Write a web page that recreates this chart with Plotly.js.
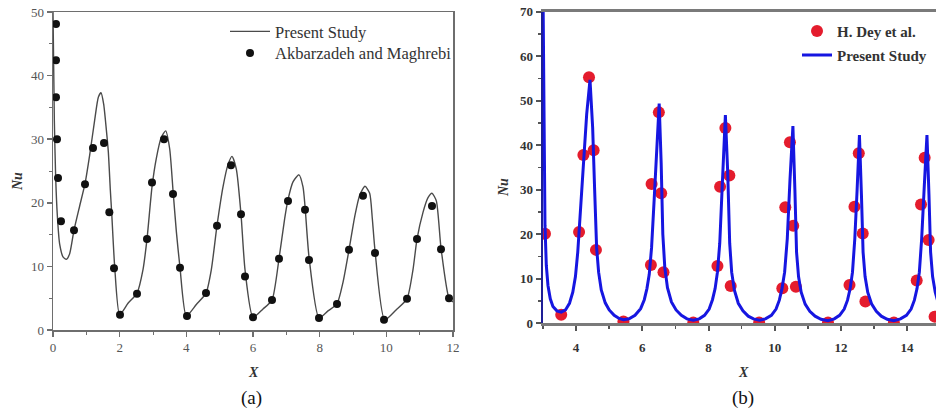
<!DOCTYPE html>
<html>
<head>
<meta charset="utf-8">
<script src="https://cdn.plot.ly/plotly-3.0.1.min.js"></script>
<style>
html,body{margin:0;padding:0;background:#fff;}
#chart{width:936px;height:415px;}
</style>
</head>
<body>
<div id="chart"></div>
<script>
// ---------- Panel (a) ----------
var aLineX = [0, 0.04, 0.08, 0.13, 0.2, 0.3, 0.4, 0.5, 0.63, 0.8, 0.96, 1.1, 1.25, 1.36, 1.44, 1.52, 1.6, 1.66, 1.72, 1.76, 1.85, 2.0,
  2.25, 2.52, 2.7, 2.82, 2.97, 3.1, 3.25, 3.38, 3.5, 3.6, 3.7, 3.81, 4.0,
  4.3, 4.59, 4.75, 4.92, 5.1, 5.25, 5.37, 5.5, 5.64, 5.76, 6.0,
  6.3, 6.57, 6.78, 6.95, 7.05, 7.2, 7.38, 7.5, 7.56, 7.68, 7.98,
  8.25, 8.52, 8.7, 8.88, 9.05, 9.2, 9.36, 9.5, 9.58, 9.66, 9.95,
  10.3, 10.62, 10.8, 10.92, 11.1, 11.25, 11.37, 11.5, 11.64, 11.88, 12.0];
var aLineY = [50, 33, 24, 18, 13.5, 11.5, 11.1, 12, 15.7, 19.5, 23, 27.5, 33, 36.6, 37.3, 35.5, 31.5, 28, 22, 18.5, 10, 2.4,
  4.2, 5.8, 9.5, 14.3, 22.5, 27, 30.3, 31.3, 28.5, 22, 15.5, 9.8, 2.2,
  4, 5.8, 9.5, 16.4, 22.5, 26, 27.3, 25.3, 18.2, 9.5, 2.0,
  3.3, 4.7, 11.2, 17.5, 20.5, 23.3, 24.4, 22.5, 19.5, 11.5, 1.9,
  3, 4.1, 7.5, 12.6, 17.8, 21.2, 22.6, 21.5, 17.5, 12.5, 1.6,
  3.2, 4.9, 9.5, 14.3, 18.5, 20.8, 21.5, 20.3, 12.9, 5.0, 4.4];
var aDotsX = [0.09, 0.09, 0.09, 0.12, 0.15, 0.24, 0.63, 0.96, 1.2, 1.53, 1.69, 1.83, 2.01, 2.52, 2.82, 2.97, 3.33, 3.6, 3.81, 4.02,
  4.59, 4.92, 5.34, 5.64, 5.76, 6.0, 6.57, 6.78, 7.05, 7.56, 7.68, 7.98, 8.52, 8.88, 9.3, 9.66, 9.93, 10.62, 10.92, 11.37, 11.64, 11.88];
var aDotsY = [48.1, 42.4, 36.6, 30.0, 23.9, 17.1, 15.7, 22.9, 28.6, 29.4, 18.5, 9.7, 2.4, 5.7, 14.3, 23.2, 30.0, 21.4, 9.8, 2.2,
  5.8, 16.4, 25.9, 18.2, 8.4, 2.0, 4.7, 11.2, 20.3, 18.9, 11.0, 1.9, 4.1, 12.6, 21.1, 12.1, 1.6, 4.9, 14.3, 19.5, 12.7, 5.0];

// ---------- Panel (b) ----------
var bLineX = [3.0, 3.03, 3.06, 3.1, 3.15, 3.22, 3.3, 3.42, 3.55, 3.68, 3.8, 3.9, 3.98, 4.05, 4.12, 4.22, 4.32, 4.42, 4.5, 4.56, 4.62, 4.68, 4.76, 4.88, 5.0, 5.15, 5.3, 5.43,
  5.6, 5.78, 5.95, 6.06, 6.14, 6.21, 6.28, 6.36, 6.44, 6.51, 6.57, 6.62, 6.68, 6.76, 6.88, 7.02, 7.18, 7.35, 7.54,
  7.72, 7.88, 8.02, 8.12, 8.2, 8.27, 8.34, 8.41, 8.51, 8.58, 8.64, 8.7, 8.78, 8.9, 9.04, 9.2, 9.36, 9.54,
  9.72, 9.9, 10.04, 10.14, 10.22, 10.3, 10.38, 10.46, 10.55, 10.61, 10.66, 10.72, 10.8, 10.92, 11.06, 11.22, 11.4, 11.61,
  11.8, 11.96, 12.1, 12.2, 12.28, 12.35, 12.42, 12.49, 12.56, 12.62, 12.67, 12.73, 12.81, 12.93, 13.07, 13.22, 13.4, 13.6,
  13.8, 13.98, 14.12, 14.22, 14.3, 14.37, 14.44, 14.52, 14.6, 14.66, 14.71, 14.77, 14.85, 14.95];
var bLineY = [75, 40, 22, 13, 8.5, 5.5, 3.8, 2.8, 2.5, 3.0, 4.5, 7, 10.5, 16, 24, 36, 47, 54.7, 44, 30, 17, 11.5, 7.5, 4.6, 3, 1.8, 1.1, 0.8,
  1.0, 1.8, 3.3, 5.3, 7.8, 11, 17, 28, 40, 49.4, 36, 20, 12.5, 8, 4.8, 3, 1.8, 1.0, 0.7,
  1.0, 1.8, 3.2, 5.3, 7.8, 11.5, 18, 30, 46.8, 34, 18, 11.5, 7.5, 4.5, 2.8, 1.6, 1.0, 0.7,
  1.0, 1.8, 3.2, 5.2, 7.8, 11.5, 19, 32, 44.3, 30, 16, 10.5, 7, 4.3, 2.7, 1.6, 0.9, 0.6,
  1.0, 1.8, 3.2, 5.2, 7.8, 11.5, 19, 30, 42.3, 29, 16, 10.5, 7, 4.3, 2.7, 1.6, 0.9, 0.6,
  1.0, 1.8, 3.2, 5.2, 7.8, 11.5, 19, 31, 42.3, 29, 16, 10.5, 7, 4.3];
var bDotsX = [3.06, 3.55, 4.09, 4.22, 4.39, 4.53, 4.6, 5.43, 6.26, 6.28, 6.5, 6.57, 6.64, 7.54, 8.27, 8.35, 8.51, 8.63, 8.67, 9.53,
  10.23, 10.32, 10.46, 10.56, 10.64, 11.61, 12.26, 12.41, 12.54, 12.66, 12.74, 13.6, 14.29, 14.42, 14.53, 14.65, 14.83];
var bDotsY = [20.1, 1.9, 20.5, 37.8, 55.3, 38.9, 16.5, 0.4, 13.1, 31.3, 47.4, 29.2, 11.5, 0.2, 12.9, 30.7, 43.9, 33.2, 8.4, 0.2,
  7.9, 26.1, 40.7, 21.9, 8.2, 0.2, 8.6, 26.2, 38.2, 20.2, 4.9, 0.2, 9.6, 26.7, 37.2, 18.7, 1.5];

var W = 936, H = 415;
function px(x){return x/W;}
function py(y){return 1 - y/H;}

var serif = 'Liberation Serif, Times New Roman, serif';

var traces = [
  {x: aLineX, y: aLineY, xaxis:'x', yaxis:'y', mode:'lines', name:'Present Study', showlegend:true,
   line:{color:'#4a4a4a', width:1.4, shape:'spline', smoothing:0.6}, legend:'legend'},
  {x: aDotsX, y: aDotsY, xaxis:'x', yaxis:'y', mode:'markers', name:'Akbarzadeh and Maghrebi', showlegend:true,
   marker:{color:'#111', size:8}, legend:'legend2'},
  {x: bDotsX, y: bDotsY, xaxis:'x2', yaxis:'y2', mode:'markers', name:'<b>H. Dey et al.</b>', showlegend:true,
   marker:{color:'rgb(228,28,45)', size:12}, legend:'legend3'},
  {x: bLineX, y: bLineY, xaxis:'x2', yaxis:'y2', mode:'lines', name:'<b>Present Study</b>', showlegend:true,
   line:{color:'rgb(22,22,225)', width:3}, legend:'legend4'}
];

var axA = {showgrid:false, zeroline:false, showline:true, linecolor:'#6e6e6e', linewidth:1.5,
  ticks:'outside', ticklen:5, tickwidth:1.5, tickcolor:'#6e6e6e', mirror:true,
  tickfont:{family:serif, size:13, color:'#555'}};
var axB = {showgrid:false, zeroline:false, showline:true, linecolor:'#7a7a7a', linewidth:2.5,
  ticks:'outside', ticklen:5, tickwidth:2, tickcolor:'#555',
  tickfont:{family:serif, size:13, color:'#333', weight:'bold'}};

function legendAt(x, yTop, size, bold, iw){
  return {x:px(x), y:py(yTop), xanchor:'left', yanchor:'top', bgcolor:'rgba(0,0,0,0)', visible:true,
    borderwidth:0, font:{family:serif, size:size, color:'#333', weight: bold?'bold':'normal'}, itemwidth:iw||30};
}
function note(text, x, y, size, angle, color){
  return {text:text, x:px(x), y:py(y), xref:'paper', yref:'paper', showarrow:false,
    xanchor:'center', yanchor:'middle', textangle:angle||0, font:{family:serif, size:size, color:color}};
}

var layout = {
  width: W, height: H,
  showlegend: true,
  margin:{l:0, r:0, t:0, b:0},
  paper_bgcolor:'#fff', plot_bgcolor:'#fff',
  font:{family:serif},
  xaxis: Object.assign({}, axA, {domain:[px(53), px(453)], range:[0,12], dtick:2, tick0:0, anchor:'y',
    minor:{dtick:1, ticks:'outside', ticklen:3, tickwidth:1, tickcolor:'#6e6e6e'}}),
  yaxis: Object.assign({}, axA, {domain:[py(330), py(12)], range:[0,50], dtick:10, tick0:0, anchor:'x',
    minor:{dtick:5, ticks:'outside', ticklen:3, tickwidth:1, tickcolor:'#6e6e6e'}}),
  xaxis2: Object.assign({}, axB, {domain:[px(543), 1], range:[3, 14.873], dtick:2, tick0:0, anchor:'y2', mirror:true,
    ticklabelstandoff:6,
    minor:{dtick:1, ticks:'outside', ticklen:3, tickwidth:1.5, tickcolor:'#555'}}),
  yaxis2: Object.assign({}, axB, {domain:[py(323.3), py(11.8)], range:[0,70], dtick:10, tick0:0, anchor:'x2',
    linecolor:'rgb(30,30,150)',
    minor:{dtick:5, ticks:'outside', ticklen:3, tickwidth:1.5, tickcolor:'#555'}}),
  legend: legendAt(225, 14.1, 16.5, false, 40),
  legend2: legendAt(225, 35.7, 16.5, false, 40),
  legend3: legendAt(797, 14.75, 15, true),
  legend4: legendAt(797, 38.75, 15, true),
  annotations:[
    note('(a)', 251, 398, 19, 0, '#111'),
    note('(b)', 743, 398, 19, 0, '#111'),
    note('<b><i>X</i></b>', 254, 372, 14, 0, '#333'),
    note('<b><i>X</i></b>', 743, 372, 14, 0, '#333'),
    note('<b><i>Nu</i></b>', 17, 182, 14, -90, '#333'),
    note('<b><i>Nu</i></b>', 503, 188, 14, -90, '#333')
  ]
};

Plotly.newPlot('chart', traces, layout, {staticPlot:true, displayModeBar:false});
</script>
</body>
</html>
